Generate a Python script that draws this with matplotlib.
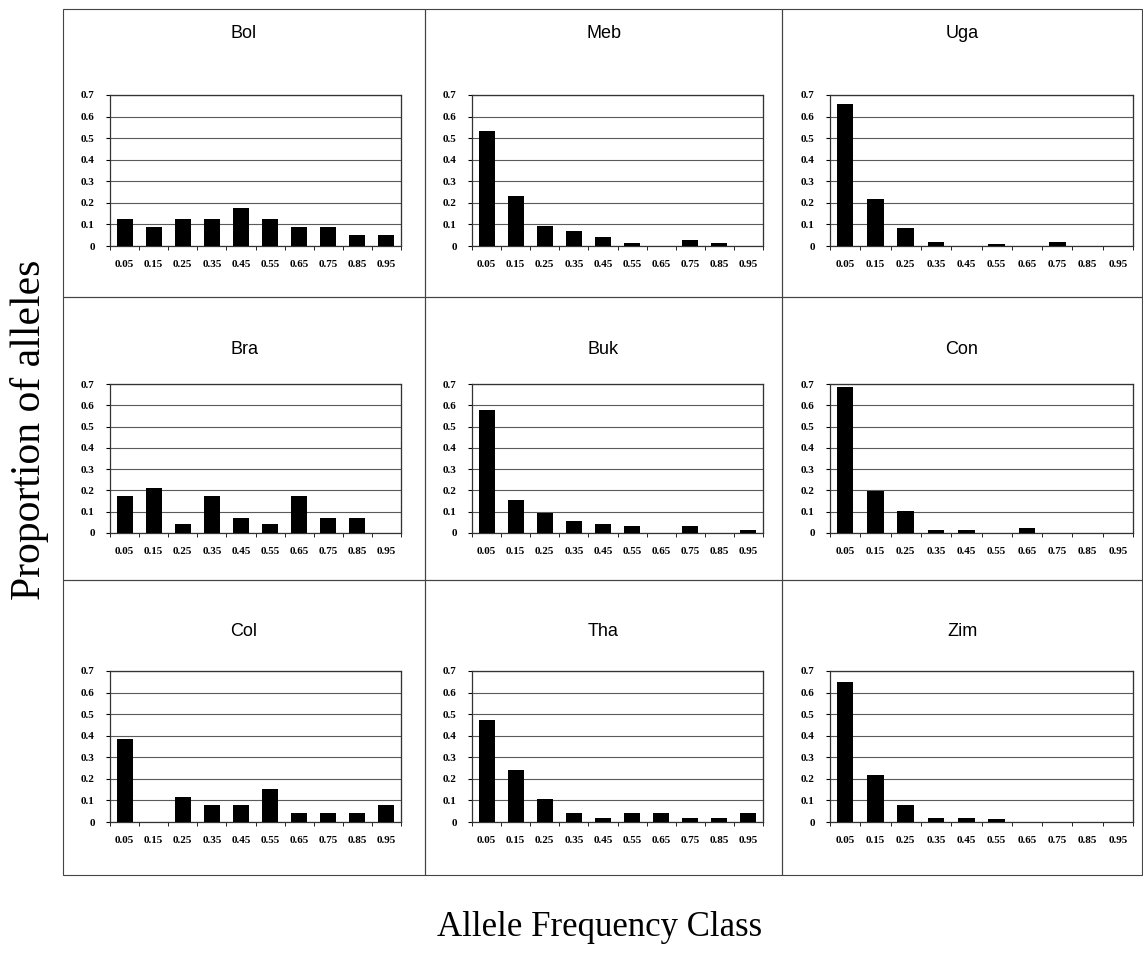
import numpy as np
import matplotlib
matplotlib.use("Agg")
import matplotlib.pyplot as plt
from matplotlib.patches import Rectangle

# frequency classes shown on every x axis
classes = ["0.05", "0.15", "0.25", "0.35", "0.45", "0.55", "0.65", "0.75", "0.85", "0.95"]

# proportion of alleles per class
bol = [0.125, 0.087, 0.125, 0.125, 0.175, 0.125, 0.087, 0.087, 0.05, 0.05]
meb = [0.535, 0.23, 0.095, 0.07, 0.04, 0.012, 0.0, 0.03, 0.012, 0.0]
uga = [0.66, 0.22, 0.085, 0.02, 0.0, 0.01, 0.0, 0.02, 0.0, 0.0]
bra = [0.175, 0.21, 0.042, 0.175, 0.07, 0.042, 0.175, 0.07, 0.07, 0.0]
buk = [0.58, 0.155, 0.095, 0.058, 0.04, 0.032, 0.0, 0.032, 0.0, 0.012]
con = [0.685, 0.195, 0.105, 0.012, 0.012, 0.0, 0.022, 0.0, 0.0, 0.0]
col = [0.385, 0.0, 0.115, 0.077, 0.077, 0.155, 0.04, 0.04, 0.04, 0.077]
tha = [0.475, 0.24, 0.105, 0.04, 0.02, 0.04, 0.04, 0.02, 0.02, 0.04]
zim = [0.65, 0.22, 0.08, 0.02, 0.02, 0.012, 0.0, 0.0, 0.0, 0.0]

names = [["Bol", "Meb", "Uga"], ["Bra", "Buk", "Con"], ["Col", "Tha", "Zim"]]
values = [[bol, meb, uga], [bra, buk, con], [col, tha, zim]]

W, H = 1143, 959
fig = plt.figure(figsize=(W / 100, H / 100), dpi=100)

# pixel layout: panel boxes and plot areas
box_x = [63, 425, 782, 1142]
box_y = [9, 297, 580, 875]
plot_x = [(110, 401), (472, 763), (830, 1133)]
plot_y = [(95, 246), (384, 533), (671, 822)]
title_y = [33, 350, 632]


def fx(px):
    return px / W


def fy(py):
    return 1 - py / H


# panel outlines
for r in range(3):
    for c in range(3):
        fig.patches.append(Rectangle((fx(box_x[c]), fy(box_y[r + 1])),
                                     fx(box_x[c + 1]) - fx(box_x[c]),
                                     fy(box_y[r]) - fy(box_y[r + 1]),
                                     transform=fig.transFigure, fill=False,
                                     edgecolor="#444444", linewidth=0.8))

tick_font = dict(family="Liberation Serif", fontweight="bold", fontsize=8)
x = np.arange(len(classes))
for r in range(3):
    for c in range(3):
        x0, x1 = plot_x[c]
        y0, y1 = plot_y[r]
        ax = fig.add_axes([fx(x0), fy(y1), fx(x1) - fx(x0), fy(y0) - fy(y1)])
        ax.bar(x, values[r][c], width=0.55, color="black", zorder=3)
        ax.set_xlim(-0.5, len(classes) - 0.5)
        ax.set_ylim(0, 0.7)
        ax.set_yticks(np.arange(0, 0.71, 0.1))
        ax.set_yticklabels(["0", "0.1", "0.2", "0.3", "0.4", "0.5", "0.6", "0.7"], **tick_font)
        ax.set_xticks(x)
        ax.set_xticklabels(classes, **tick_font)
        # ticks sit between categories, labels under the bars
        ax.set_xticks(np.arange(-0.5, len(classes), 1), minor=True)
        ax.tick_params(axis="x", which="major", length=0, pad=10)
        ax.tick_params(axis="x", which="minor", length=3, direction="out")
        ax.tick_params(axis="y", length=3, pad=8)
        ax.grid(axis="y", color="#5a5a5a", linewidth=0.8, zorder=0)
        for s in ax.spines.values():
            s.set_color("#333333")
            s.set_linewidth(0.9)
            s.set_linestyle((0, (1, 0.6)))
        ax.spines["bottom"].set_linestyle("-")
        ax.spines["left"].set_linestyle("-")
        fig.text(fx((box_x[c] + box_x[c + 1]) / 2), fy(title_y[r]), names[r][c],
                 ha="center", va="center", family="Liberation Sans", fontsize=13)

fig.text(fx(30), fy(430), "Proportion of alleles", rotation=90, ha="center", va="center",
         family="Liberation Serif", fontsize=30)
fig.text(fx(600), fy(928), "Allele Frequency Class", ha="center", va="center",
         family="Liberation Serif", fontsize=25)

fig.savefig("out.png", dpi=100)
